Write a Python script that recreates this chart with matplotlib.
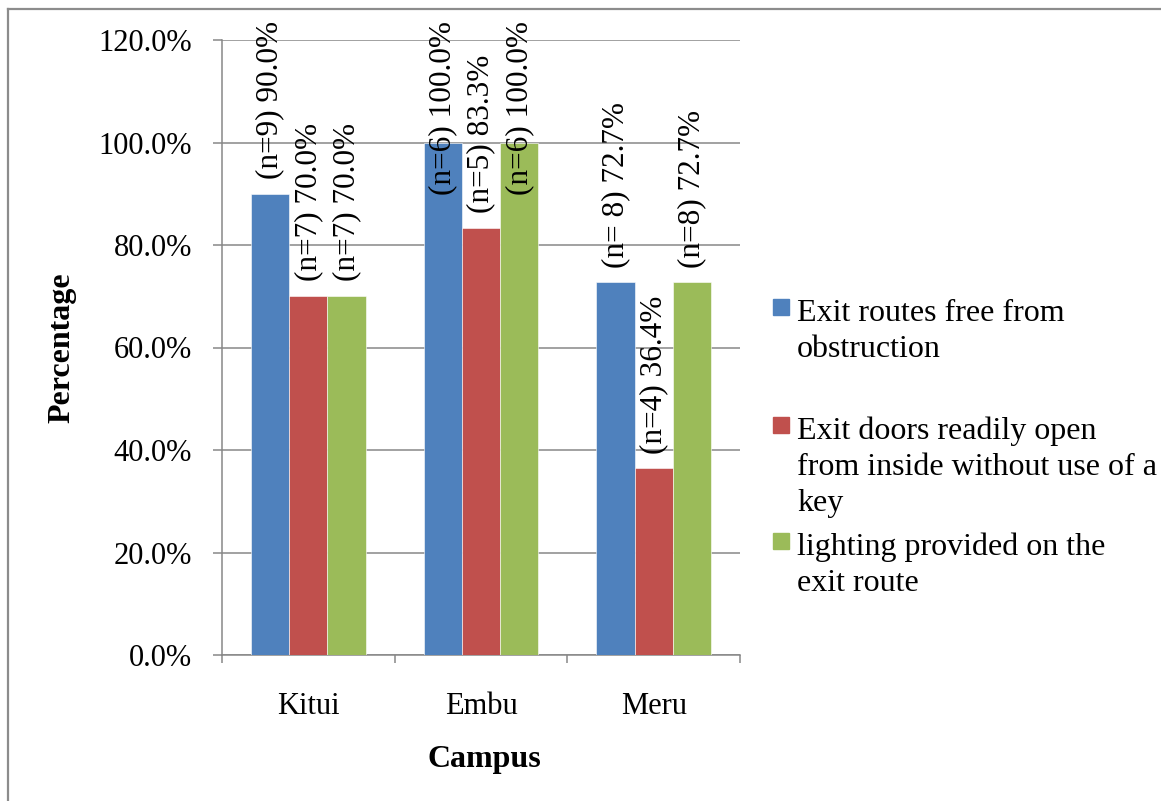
import matplotlib
matplotlib.use("Agg")
import matplotlib.pyplot as plt
from matplotlib.lines import Line2D
from matplotlib.patches import Rectangle
from matplotlib.ticker import FixedLocator, PercentFormatter
import numpy as np

# ---- data -------------------------------------------------------------
campuses = ["Kitui", "Embu", "Meru"]
series_names = [
    "Exit routes free from\nobstruction",
    "Exit doors readily open\nfrom inside without use of a\nkey",
    "lighting provided on the\nexit route",
]
free_pct = [90.0, 100.0, 72.7]
free_n = ["n=9", "n=6", "n= 8"]
doors_pct = [70.0, 83.3, 36.4]
doors_n = ["n=7", "n=5", "n=4"]
light_pct = [70.0, 100.0, 72.7]
light_n = ["n=7", "n=6", "n=8"]
yticks = [0, 20, 40, 60, 80, 100, 120]

colors = ["#4F81BD", "#C0504D", "#9BBB59"]
grid_color = "#878787"

plt.rcParams["font.family"] = ["Liberation Serif", "DejaVu Serif"]

W, H = 1161, 801
fig = plt.figure(figsize=(W / 100, H / 100), dpi=100)
ax = fig.add_axes([222 / W, 1 - 655 / H, (740 - 222) / W, (655 - 40) / H])

x = np.arange(len(campuses))
bw = 0.222
all_pct = [free_pct, doors_pct, light_pct]
all_n = [free_n, doors_n, light_n]

texts = []
for i, (vals, ns) in enumerate(zip(all_pct, all_n)):
    pos = x + (i - 1) * bw
    ax.bar(pos, vals, width=bw, color=colors[i], edgecolor="white",
           linewidth=0.4, zorder=3)
    for px, v, n in zip(pos, vals, ns):
        t = ax.text(px, v + 2.9, f"({n}) {v:.1f}%", rotation=90,
                    ha="center", va="bottom", fontsize=22.5, zorder=4)
        texts.append(t)

ax.set_xlim(-0.5, 2.5)
ax.set_ylim(0, 120)
ax.yaxis.set_major_locator(FixedLocator(yticks))
ax.yaxis.set_major_formatter(PercentFormatter(decimals=1))
ax.grid(axis="y", color=grid_color, linewidth=1.1, zorder=0)
ax.set_axisbelow(True)

for s in ["top", "right"]:
    ax.spines[s].set_visible(False)
for s in ["left", "bottom"]:
    ax.spines[s].set_color(grid_color)
    ax.spines[s].set_linewidth(1.1)

ax.set_xticks(x)
ax.set_xticklabels(campuses)
ax.set_xticks([-0.5, 0.5, 1.5, 2.5], minor=True)
ax.tick_params(axis="x", which="major", length=0, pad=27, labelsize=22)
ax.tick_params(axis="x", which="minor", length=6, width=1.1,
               color=grid_color, direction="out")
ax.tick_params(axis="y", length=6.5, width=1.1, color=grid_color,
               pad=15, labelsize=22)

fig.text(62 / W, 1 - 348 / H, "Percentage", rotation=90, ha="center",
         va="center", fontsize=23, fontweight="bold")
fig.text(484 / W, 1 - 760 / H, "Campus", ha="center", va="center",
         fontsize=23, fontweight="bold")

# keep rotated value labels inside the chart area
fig.canvas.draw()
renderer = fig.canvas.get_renderer()
top_limit = H - 21
inv = ax.transData.inverted()
for t in texts:
    bb = t.get_window_extent(renderer)
    if bb.y1 > top_limit:
        shift = bb.y1 - top_limit
        x0, y0 = t.get_position()
        disp = ax.transData.transform((x0, y0))
        nx, ny = inv.transform((disp[0], disp[1] - shift))
        t.set_position((x0, ny))

# legend: swatch plus wrapped entry text, one line at a time
legend_rows = [307, 425, 541]
line_step = 36
for name, c, yy in zip(series_names, colors, legend_rows):
    fig.add_artist(Rectangle((773 / W, 1 - (yy + 8) / H), 16 / W, 16 / H,
                             transform=fig.transFigure, color=c))
    for k, line in enumerate(name.split("\n")):
        fig.text(797 / W, 1 - (yy + 6.5 + k * line_step) / H, line,
                 ha="left", va="center", fontsize=23)

# chart-area frame
fig.add_artist(Line2D([8 / W, 1.0], [1 - 9 / H, 1 - 9 / H],
                      transform=fig.transFigure, color="#8c8c8c", lw=1.6))
fig.add_artist(Line2D([8 / W, 8 / W], [1 - 9 / H, 0.0],
                      transform=fig.transFigure, color="#8c8c8c", lw=1.6))

fig.savefig("out.png", dpi=100, facecolor="white")
